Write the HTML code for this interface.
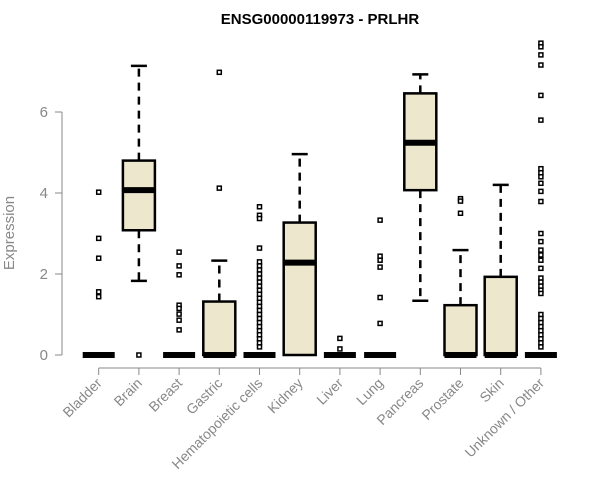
<!DOCTYPE html>
<html><head><meta charset="utf-8"><style>body{margin:0;background:#fff}svg{display:block;font-family:"Liberation Sans",Arial,sans-serif}</style></head>
<body>
<svg id="chart" width="600" height="500" xmlns="http://www.w3.org/2000/svg">
<text x="320" y="24" text-anchor="middle" font-size="15" font-weight="bold">ENSG00000119973 - PRLHR</text>
<text transform="translate(14,233) rotate(-90)" text-anchor="middle" font-size="15" fill="#888">Expression</text>
<g id="axes"></g><g id="marks"></g>
</svg>
<script>
const categories=["Bladder","Brain","Breast","Gastric","Hematopoietic cells","Kidney","Liver","Lung","Pancreas","Prostate","Skin","Unknown / Other"];
const q1=[0,3.08,0,0,0,0,0,0,4.07,0,0,0];
const medians=[0,4.07,0,0,0,2.28,0,0,5.24,0,0,0];
const q3=[0,4.80,0,1.32,0,3.27,0,0,6.46,1.23,1.93,0];
const whiskLo=[0,1.83,0,0,0,0,0,0,1.34,0,0,0];
const whiskHi=[0,7.14,0,2.33,0,4.96,0,0,6.93,2.59,4.2,0];
const outliers=[
[4.02,2.88,2.39,1.56,1.44],
[0],
[2.54,2.2,1.98,1.23,1.15,1.01,0.86,0.62],
[6.98,4.12],
[3.66,3.45,3.37,2.64,2.3,2.2,2.1,2.0,1.9,1.8,1.7,1.6,1.5,1.4,1.3,1.2,1.1,1.0,0.9,0.8,0.7,0.6,0.5,0.4,0.3,0.2],
[],
[0.41,0.15],
[3.33,2.44,2.34,2.17,1.42,0.78],
[],
[3.86,3.8,3.5],
[],
[7.7,7.61,7.41,7.16,6.41,5.8,4.6,4.5,4.4,4.24,4.04,3.79,3.0,2.8,2.59,2.47,2.34,2.14,1.9,1.8,1.7,1.6,1.52,1.0,0.9,0.8,0.7,0.6,0.5,0.4,0.3,0.2]];
const yTicks=[0,2,4,6];
const NS="http://www.w3.org/2000/svg";
const y=v=>355-v*40.5;
const x=i=>98.7+i*40.2;
function mk(t,a,p){const e=document.createElementNS(NS,t);for(const k in a)e.setAttribute(k,a[k]);p.appendChild(e);return e;}
const ax=document.getElementById('axes'),mg=document.getElementById('marks');
const yl=mk('line',{x1:62,x2:62,y1:y(0),y2:y(6),stroke:'#888'},ax);


yTicks.forEach(t=>{
 mk('line',{x1:55,x2:62,y1:y(t),y2:y(t),stroke:'#888'},ax);
 const tx=mk('text',{x:48,y:y(t)+5,'text-anchor':'end','font-size':15,fill:'#888'},ax);tx.textContent=t;
 
 
});
const xl=mk('line',{x1:x(0),x2:x(11),y1:368,y2:368,stroke:'#888'},ax);


categories.forEach((c,i)=>{
 const cx=x(i);
 mk('line',{x1:cx,x2:cx,y1:368,y2:375,stroke:'#888'},ax);
 const tx=mk('text',{transform:`translate(${cx+4},384) rotate(-45)`,'text-anchor':'end','font-size':14,fill:'#888'},ax);tx.textContent=c;
 
 
 const g=mk('g',{},mg);
 
 
 const hw=16;
 if(whiskHi[i]>q3[i]){mk('line',{x1:cx,x2:cx,y1:y(q3[i]),y2:y(whiskHi[i]),stroke:'#000','stroke-width':2.5,'stroke-dasharray':'8,6'},g);
  mk('line',{x1:cx-8,x2:cx+8,y1:y(whiskHi[i]),y2:y(whiskHi[i]),stroke:'#000','stroke-width':2.5},g);}
 if(whiskLo[i]<q1[i]){mk('line',{x1:cx,x2:cx,y1:y(q1[i]),y2:y(whiskLo[i]),stroke:'#000','stroke-width':2.5,'stroke-dasharray':'8,6'},g);
  mk('line',{x1:cx-8,x2:cx+8,y1:y(whiskLo[i]),y2:y(whiskLo[i]),stroke:'#000','stroke-width':2.5},g);}
 if(q3[i]>q1[i]) mk('rect',{x:cx-hw,y:y(q3[i]),width:2*hw,height:y(q1[i])-y(q3[i]),fill:'#EDE7CD',stroke:'#000','stroke-width':2.5},g);
 if(categories[i]!=="Brain"&&categories[i]!=="Pancreas"||q3[i]>q1[i]) mk('line',{x1:cx-hw,x2:cx+hw,y1:y(medians[i]),y2:y(medians[i]),stroke:'#000','stroke-width':6},g);
 outliers[i].forEach(v=>{const o=mk('rect',{x:cx-2,y:y(v)-2,width:4,height:4,fill:'#fff',stroke:'#000','stroke-width':1.5},g);
  
  });
});
</script>
</body></html>
